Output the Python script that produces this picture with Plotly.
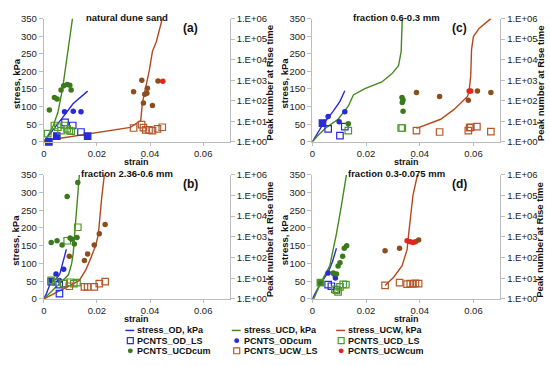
import plotly.graph_objects as go

W, H = 550, 366

# ---------------- data ----------------
panel_titles = ["natural dune sand", "fraction 2.36-0.6 mm", "fraction 0.6-0.3 mm", "fraction 0.3-0.075 mm"]
panel_tags = ["(a)", "(b)", "(c)", "(d)"]
strain_ticks = [0, 0.02, 0.04, 0.06]
strain_tick_labels = ["0", "0.02", "0.04", "0.06"]
stress_ticks = [0, 50, 100, 150, 200, 250, 300, 350]
peak_ticks = [1, 10, 100, 1000, 10000, 100000, 1000000]
peak_tick_labels = ["1.E+00", "1.E+01", "1.E+02", "1.E+03", "1.E+04", "1.E+05", "1.E+06"]

# panel (a) natural dune sand
a_od_line_strain = [0, 0.003, 0.007, 0.011, 0.0165]
a_od_line_stress = [0, 28, 68, 108, 144]
a_ucd_line_strain = [0, 0.001, 0.0035, 0.0053, 0.0071, 0.0084, 0.0094, 0.0106, 0.0108]
a_ucd_line_stress = [0, 10, 45, 83, 152, 220, 276, 344, 350]
a_ucw_line_strain = [0, 0.002, 0.0326, 0.0365, 0.0371, 0.0397, 0.0409, 0.0424, 0.0446]
a_ucw_line_stress = [0, 5, 41, 60, 110, 202, 257, 285, 350]
a_od_ls_strain = [0.0019, 0.0049, 0.008, 0.0109, 0.014, 0.0165]
a_od_ls_peaks = [1.0, 1.9, 8.8, 6.2, 3.0, 1.9]
a_od_cum_strain = [0.0078, 0.0111, 0.014]
a_od_cum_peaks = [28.7, 31, 28.7]
a_ucd_ls_strain = [0.0015, 0.004, 0.0053, 0.0065, 0.0077, 0.0088, 0.0096, 0.0103]
a_ucd_ls_peaks = [2.5, 6.2, 5.1, 3.5, 6.2, 4.3, 3.5, 3.3]
a_ucd_cum_strain = [0.0021, 0.004, 0.005, 0.0065, 0.0075, 0.0088, 0.0098, 0.0103]
a_ucd_cum_peaks = [35, 145, 123, 331, 532, 623, 575, 331]
a_ucw_ls_strain = [0.0338, 0.0368, 0.0375, 0.0384, 0.0396, 0.0409, 0.0428, 0.0446]
a_ucw_ls_peaks = [4.7, 6.9, 4.9, 3.8, 3.8, 3.5, 4.3, 5.1]
a_ucw_cum_strain = [0.0338, 0.0369, 0.0375, 0.038, 0.0388, 0.039, 0.0409, 0.043, 0.0448]
a_ucw_cum_peaks = [272, 1000, 77, 206, 232, 403, 58, 924, 889]

# panel (b) fraction 2.36-0.6 mm
b_od_line_strain = [0, 0.001, 0.002, 0.0025, 0.003, 0.0045, 0.006, 0.007, 0.0078, 0.0085]
b_od_line_stress = [0, 15, 35, 48, 52, 55, 70, 95, 120, 140]
b_ucd_line_strain = [0, 0.003, 0.0065, 0.0093, 0.0105, 0.0111, 0.0118, 0.0126, 0.0134]
b_ucd_line_stress = [0, 22, 46, 68, 100, 130, 200, 270, 350]
b_ucw_line_strain = [0, 0.005, 0.01, 0.0134, 0.0159, 0.0177, 0.0195, 0.0205, 0.021, 0.0218, 0.0228]
b_ucw_line_stress = [0, 18, 38, 52, 83, 115, 150, 180, 230, 285, 350]
b_od_ls_strain = [0.0028, 0.0058, 0.0075, 0.0059]
b_od_ls_peaks = [6.9, 4.9, 5.5, 1.8]
b_od_cum_strain = [0.0028, 0.0046, 0.0059, 0.0075]
b_od_cum_peaks = [7.8, 15.8, 7.8, 27.5]
b_ucd_ls_strain = [0.0028, 0.0046, 0.0075, 0.0099, 0.0113, 0.0125, 0.0088, 0.0128]
b_ucd_ls_peaks = [7.8, 6.4, 5.5, 6.4, 5.5, 6.2, 648, 2903]
b_ucd_cum_strain = [0.0028, 0.005, 0.0069, 0.0088, 0.0099, 0.0106, 0.0115, 0.0125, 0.0128]
b_ucd_cum_peaks = [532, 648, 403, 89900, 889, 759, 454, 924, 419800]
b_ucw_ls_strain = [0.0096, 0.0153, 0.0165, 0.019, 0.0209, 0.0231]
b_ucw_ls_peaks = [4.1, 3.8, 3.8, 3.8, 5.5, 6.9]
b_ucw_cum_strain = [0.0096, 0.0153, 0.0165, 0.019, 0.0209, 0.0231]
b_ucw_cum_peaks = [114, 71, 150, 403, 1426, 3981]

# panel (c) fraction 0.6-0.3 mm
c_od_line_strain = [0, 0.0015, 0.004, 0.0078, 0.0103, 0.0121]
c_od_line_stress = [0, 18, 50, 87, 115, 145]
c_ucd_line_strain = [0, 0.0021, 0.0053, 0.0096, 0.0134, 0.0153, 0.0196, 0.0259, 0.0296, 0.0321, 0.0331, 0.0334, 0.0335]
c_ucd_line_stress = [0, 18, 41, 64, 101, 133, 151, 170, 193, 216, 257, 320, 350]
c_ucw_line_strain = [0.0388, 0.0478, 0.0528, 0.0578, 0.0584, 0.059, 0.0593, 0.06, 0.0621, 0.0665]
c_ucw_line_stress = [38, 64, 92, 129, 144, 188, 262, 299, 322, 350]
c_od_ls_strain = [0.0038, 0.0059, 0.0103, 0.0121]
c_od_ls_peaks = [8.1, 4.3, 2.0, 5.5]
c_od_cum_strain = [0.0059, 0.01, 0.0121]
c_od_cum_peaks = [17.2, 9.5, 28.7]
c_ucd_ls_strain = [0.0134, 0.0331, 0.0335]
c_ucd_ls_peaks = [3.5, 4.7, 4.7]
c_ucd_cum_strain = [0.0134, 0.0334, 0.0338, 0.0335, 0.0338]
c_ucd_cum_peaks = [7.5, 145, 110, 83, 31]
c_ucw_ls_strain = [0.0388, 0.0474, 0.0581, 0.0586, 0.059, 0.0613, 0.0665]
c_ucw_ls_peaks = [3.5, 3.0, 3.5, 4.9, 5.1, 5.5, 3.1]
c_ucw_cum_strain = [0.0388, 0.0474, 0.0581, 0.0584, 0.059, 0.0615, 0.0665]
c_ucw_cum_peaks = [251, 163, 105, 294, 294, 294, 251]

# panel (d) fraction 0.3-0.075 mm
d_od_line_strain = [0, 0.003, 0.0059, 0.0075, 0.009]
d_od_line_stress = [0, 43, 75, 105, 143]
d_ucd_line_strain = [0.0005, 0.003, 0.0065, 0.009, 0.0109, 0.0125, 0.0127]
d_ucd_line_stress = [0, 43, 93, 184, 266, 344, 350]
d_ucw_line_strain = [0.0271, 0.0303, 0.0334, 0.0353, 0.0359, 0.0365, 0.0375, 0.039, 0.0396]
d_ucw_line_stress = [38, 61, 93, 139, 184, 230, 293, 344, 350]
d_od_ls_strain = [0.0059, 0.0071, 0.009]
d_od_ls_peaks = [4.9, 4.1, 2.7]
d_od_cum_strain = [0.0059, 0.0081, 0.0086]
d_od_cum_peaks = [17.8, 15.8, 10.3]
d_ucd_ls_strain = [0.003, 0.0084, 0.0096, 0.0103, 0.0115, 0.0125]
d_ucd_ls_peaks = [6.2, 2.9, 2.2, 3.8, 5.1, 4.9]
d_ucd_cum_strain = [0.003, 0.0078, 0.009, 0.0096, 0.0103, 0.0113, 0.0119, 0.0128]
d_ucd_cum_peaks = [5.9, 17.8, 15.8, 39.3, 56, 114, 283, 373]
d_ucw_ls_strain = [0.0271, 0.0325, 0.0353, 0.0365, 0.0375, 0.0384, 0.0396]
d_ucw_ls_peaks = [4.5, 6.2, 5.2, 5.5, 5.3, 5.6, 5.5]
d_ucw_cum_strain = [0.0271, 0.0325, 0.0353, 0.0365, 0.0375, 0.0384, 0.0396]
d_ucw_cum_peaks = [214, 283, 648, 575, 532, 575, 701]

series_names = ["stress_OD, kPa", "stress_UCD, kPa", "stress_UCW, kPa",
                "PCNTS_OD_LS", "PCNTS_ODcum", "PCNTS_UCD_LS",
                "PCNTS_UCDcum", "PCNTS_UCW_LS", "PCNTS_UCWcum"]

# ---------------- styles ----------------
BLUE = "#2a2ad6"
GREEN_LINE = "#45881f"
GREEN = "#3a7a1c"
GREEN_SQ = "#4f9a2c"
BROWN_LINE = "#b4481f"
BROWN_SQ = "#b5582a"
BROWN = "#8a4f1d"
RED = "#e3261c"
FONT = "Liberation Sans"

style = {
    "stress_OD, kPa": ("line", BLUE),
    "stress_UCD, kPa": ("line", GREEN_LINE),
    "stress_UCW, kPa": ("line", BROWN_LINE),
    "PCNTS_OD_LS": ("sq", BLUE),
    "PCNTS_ODcum": ("circ", BLUE),
    "PCNTS_UCD_LS": ("sq", GREEN_SQ),
    "PCNTS_UCDcum": ("circ", GREEN),
    "PCNTS_UCW_LS": ("sq", BROWN_SQ),
    "PCNTS_UCWcum": ("circ", BROWN),
}

# filled-square points among the open squares (index lists), red highlighted UCW cum points
filled_od_squares = {0: [0, 1, 5], 1: [], 2: [0], 3: []}
filled_ucd_squares = {0: [], 1: [], 2: [], 3: [0]}
red_ucw_cum = {0: [8], 1: [], 2: [3, 4], 3: [2, 3, 4, 5]}

panels = [
    dict(lines=[(a_od_line_strain, a_od_line_stress), (a_ucd_line_strain, a_ucd_line_stress), (a_ucw_line_strain, a_ucw_line_stress)],
         pts=[(a_od_ls_strain, a_od_ls_peaks), (a_od_cum_strain, a_od_cum_peaks), (a_ucd_ls_strain, a_ucd_ls_peaks),
              (a_ucd_cum_strain, a_ucd_cum_peaks), (a_ucw_ls_strain, a_ucw_ls_peaks), (a_ucw_cum_strain, a_ucw_cum_peaks)]),
    dict(lines=[(b_od_line_strain, b_od_line_stress), (b_ucd_line_strain, b_ucd_line_stress), (b_ucw_line_strain, b_ucw_line_stress)],
         pts=[(b_od_ls_strain, b_od_ls_peaks), (b_od_cum_strain, b_od_cum_peaks), (b_ucd_ls_strain, b_ucd_ls_peaks),
              (b_ucd_cum_strain, b_ucd_cum_peaks), (b_ucw_ls_strain, b_ucw_ls_peaks), (b_ucw_cum_strain, b_ucw_cum_peaks)]),
    dict(lines=[(c_od_line_strain, c_od_line_stress), (c_ucd_line_strain, c_ucd_line_stress), (c_ucw_line_strain, c_ucw_line_stress)],
         pts=[(c_od_ls_strain, c_od_ls_peaks), (c_od_cum_strain, c_od_cum_peaks), (c_ucd_ls_strain, c_ucd_ls_peaks),
              (c_ucd_cum_strain, c_ucd_cum_peaks), (c_ucw_ls_strain, c_ucw_ls_peaks), (c_ucw_cum_strain, c_ucw_cum_peaks)]),
    dict(lines=[(d_od_line_strain, d_od_line_stress), (d_ucd_line_strain, d_ucd_line_stress), (d_ucw_line_strain, d_ucw_line_stress)],
         pts=[(d_od_ls_strain, d_od_ls_peaks), (d_od_cum_strain, d_od_cum_peaks), (d_ucd_ls_strain, d_ucd_ls_peaks),
              (d_ucd_cum_strain, d_ucd_cum_peaks), (d_ucw_ls_strain, d_ucw_ls_peaks), (d_ucw_cum_strain, d_ucw_cum_peaks)]),
]

# pixel boxes of plot areas: (left, right, top, bottom)
boxes = [(41, 228, 13, 140), (41, 228, 174, 302), (311, 500, 13, 140), (311, 500, 174, 302)]

def px(x):
    return x / W

def py(y):
    return 1 - y / H

fig = go.Figure()
layout = dict(width=W, height=H, margin=dict(l=0, r=0, t=0, b=0), showlegend=False,
              paper_bgcolor="white", plot_bgcolor="white", font=dict(family=FONT, color="#222"))
AX = "#bdbdbd"
TICKFONT = dict(size=9.5, family=FONT, color="#222")
annotations = []
shapes = []

for p, panel in enumerate(panels):
    xa = "x" if p == 0 else f"x{p + 1}"
    yl = "y" if p == 0 else f"y{2 * p + 1}"
    yr = f"y{2 * p + 2}"
    l, r, t, b = boxes[p]
    layout["xaxis" if p == 0 else f"xaxis{p + 1}"] = dict(
        domain=[px(l), px(r)], range=[0, 0.07], anchor=yl, tickvals=strain_ticks, ticktext=strain_tick_labels,
        showline=True, linecolor=AX, ticks="outside", ticklen=3, tickcolor=AX, showgrid=False, zeroline=False,
        tickfont=TICKFONT)
    layout["yaxis" if p == 0 else f"yaxis{2 * p + 1}"] = dict(
        domain=[py(b), py(t)], range=[0, 350], anchor=xa, tickvals=stress_ticks,
        showline=True, linecolor=AX, ticks="outside", ticklen=4, tickcolor=AX, showgrid=False, zeroline=False,
        tickfont=TICKFONT)
    layout[f"yaxis{2 * p + 2}"] = dict(
        domain=[py(b), py(t)], overlaying=yl, side="right", anchor=xa, type="log", range=[0, 6],
        tickvals=peak_ticks, ticktext=peak_tick_labels,
        showline=True, linecolor=AX, ticks="outside", ticklen=4, tickcolor=AX, showgrid=False, zeroline=False,
        tickfont=TICKFONT)

    # stress lines (left axis)
    for name, (xs, ys) in zip(series_names[:3], panel["lines"]):
        fig.add_trace(go.Scatter(x=xs, y=ys, mode="lines", name=name, xaxis=xa, yaxis=yl,
                                 line=dict(color=style[name][1], width=1.4), cliponaxis=False))
    # peak counts (right log axis)
    for name, (xs, ys) in zip(series_names[3:], panel["pts"]):
        kind, col = style[name]
        if kind == "sq":
            filled = filled_od_squares[p] if name == "PCNTS_OD_LS" else (filled_ucd_squares[p] if name == "PCNTS_UCD_LS" else [])
            symbols = ["square" if i in filled else "square-open" for i in range(len(xs))]
            marker = dict(symbol=symbols, size=6.5, color=col, line=dict(color=col, width=1.2))
        else:
            cols = [col] * len(xs)
            if name == "PCNTS_UCWcum":
                cols = [RED if i in red_ucw_cum[p] else col for i in range(len(xs))]
            marker = dict(symbol="circle", size=5.5, color=cols, line=dict(width=0))
        fig.add_trace(go.Scatter(x=xs, y=ys, mode="markers", name=name, xaxis=xa, yaxis=yr,
                                 marker=marker, cliponaxis=False))

    cx = (l + r) / 2
    # panel title and tag
    annotations.append(dict(text="<b>" + panel_titles[p] + "</b>", x=px(cx - 10), y=py(t - 1), xref="paper", yref="paper",
                            showarrow=False, xanchor="center", yanchor="middle", font=dict(size=9.5, family=FONT, color="#111")))
    annotations.append(dict(text="<b>" + panel_tags[p] + "</b>", x=px(l + 148), y=py(t + 10), xref="paper", yref="paper",
                            showarrow=False, xanchor="center", yanchor="middle", font=dict(size=12, family=FONT, color="#111")))
    # axis titles
    annotations.append(dict(text="<b>strain</b>", x=px(cx), y=py(b + 21), xref="paper", yref="paper",
                            showarrow=False, xanchor="center", yanchor="middle", font=dict(size=9, family=FONT, color="#111")))
    annotations.append(dict(text="<b>stress, kPa</b>", x=px(l - 28), y=py((t + b) / 2 + 3), xref="paper", yref="paper",
                            textangle=-90, showarrow=False, xanchor="center", yanchor="middle",
                            font=dict(size=9.5, family=FONT, color="#111")))
    annotations.append(dict(text="<b>Peak number at Rise time</b>", x=px(r + 40), y=py((t + b) / 2 + 3), xref="paper", yref="paper",
                            textangle=-90, showarrow=False, xanchor="center", yanchor="middle",
                            font=dict(size=9.5, family=FONT, color="#111")))

# ---------------- legend (3 x 3 grid) ----------------
glyph_x = [128, 235, 340]
row_y = [334.5, 345, 355.5]
for i, name in enumerate(series_names):
    row, col = divmod(i, 3)
    gx, gy = glyph_x[col], row_y[row]
    kind, color = style[name]
    if kind == "line":
        shapes.append(dict(type="line", xref="paper", yref="paper", x0=px(gx - 5), x1=px(gx + 4), y0=py(gy), y1=py(gy),
                           line=dict(color=color, width=1.5)))
    elif kind == "sq":
        shapes.append(dict(type="rect", xref="paper", yref="paper", x0=px(gx - 3), x1=px(gx + 3), y0=py(gy + 3), y1=py(gy - 3),
                           line=dict(color=color, width=1.2), fillcolor="rgba(0,0,0,0)"))
    else:
        shapes.append(dict(type="circle", xref="paper", yref="paper", x0=px(gx - 2.5), x1=px(gx + 2.5), y0=py(gy + 2.5), y1=py(gy - 2.5),
                           line=dict(width=0), fillcolor=(RED if name == "PCNTS_UCWcum" else color)))
    annotations.append(dict(text="<b>" + name + "</b>", x=px(gx + 5), y=py(gy), xref="paper", yref="paper",
                            showarrow=False, xanchor="left", yanchor="middle", font=dict(size=9, family=FONT, color="#111")))

layout["annotations"] = annotations
layout["shapes"] = shapes
fig.update_layout(**layout)
fig.write_html("out.html", config={"displayModeBar": False},
               post_script="document.body.style.margin='0';document.body.style.overflow='hidden';")
